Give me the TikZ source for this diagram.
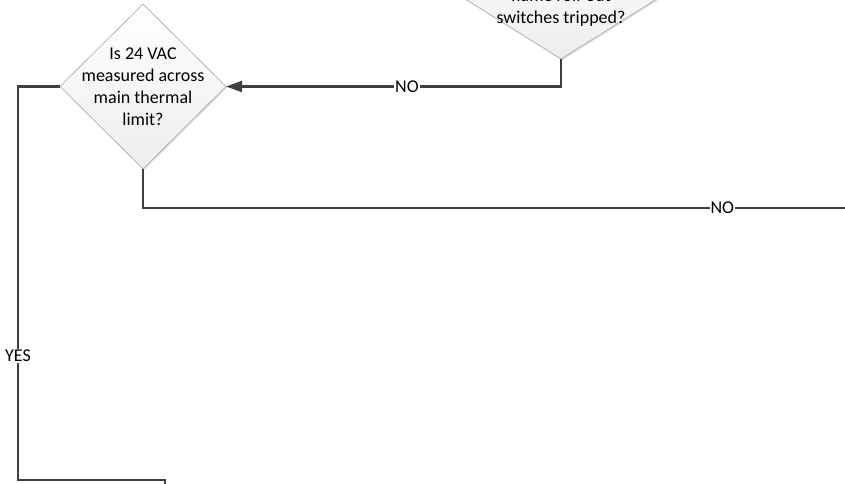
\documentclass[tikz,border=0pt]{standalone}
\usepackage{fontspec}
\setmainfont{Carlito}
\usetikzlibrary{arrows.meta, shapes.geometric, shadows}

\begin{document}
\begin{tikzpicture}[
  x=1pt, y=-1pt,
  decision/.style={diamond, draw=gray!70, line width=0.6pt, top color=white, bottom color=gray!14, drop shadow={shadow xshift=1.2pt, shadow yshift=-1.2pt, opacity=0.25}, inner sep=0pt, outer sep=0pt},
  txt/.style={align=center, font=\fontsize{18}{22}\selectfont},
  link/.style={draw=black!75, line width=2.2pt},
  arrow/.style={link, -{Triangle[length=16pt, width=11pt]}},
  tag/.style={fill=white, inner sep=1pt, font=\fontsize{18}{22}\selectfont}
  ]
  \useasboundingbox (0,0) rectangle (845,483);
  \clip (0,0) rectangle (845,483);

  % ========== decisions ==========
  \node[decision, minimum width=198pt, minimum height=124pt] (roll) at (561,-3) {};
  \node[txt] (rolltext) at ([yshift=-11pt]roll.center) {flame roll-out\\switches tripped?};
  \node[decision, minimum width=166pt, minimum height=165pt] (vac) at (143,86.5) {};
  \node[txt] (vactext) at (vac.center) {Is 24 VAC\\measured across\\main thermal\\limit?};

  % ========== free ends ==========
  \coordinate (noend) at (860,208);
  \coordinate (yescorner) at (18,480);
  \coordinate (yesend) at (165,495);

  % ========== connectors ==========
  \draw[arrow] (roll.south) |- node[tag, pos=0.73] {NO} (vac.east);
  \draw[link] (vac.south) |- node[tag, pos=0.904] {NO} (noend);
  \draw[link] (vac.west) -| node[tag, pos=0.842] {YES} (yescorner) -| (yesend);
\end{tikzpicture}
\end{document}
